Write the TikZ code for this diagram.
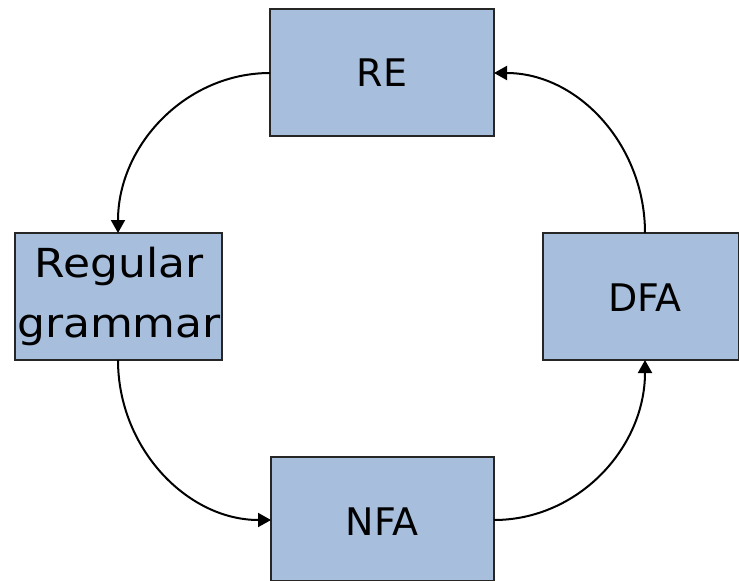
\documentclass[tikz,border=0pt]{standalone}
\usepackage{fontspec}
\setmainfont{DejaVu Sans}
\usetikzlibrary{arrows.meta}
\definecolor{boxfill}{HTML}{A7BFDD}
\begin{document}
\begin{tikzpicture}[x=1pt,y=-1pt,
  box/.style={draw=black!85,line width=2pt,fill=boxfill,inner sep=0pt,anchor=north west},
  conn/.style={line width=2pt,-{Triangle[length=13pt,width=14pt]}},
  lab/.style={font=\fontsize{38}{58}\selectfont,align=center}]
\useasboundingbox (0,0) rectangle (739,581);
\path[box] (270,9) rectangle (494,136);
\node[lab] (re) at (382,73) {RE};
\coordinate (reL) at (270,73);
\coordinate (reR) at (494,73);
\path[box] (15,233) rectangle (222,360);
\node[lab,font=\fontsize{40}{60}\selectfont] (rg) at (119,296) {\scalebox{1.1}[1]{Regular}\\\scalebox{1.1}[1]{grammar}};
\coordinate (rgT) at (118,233);
\coordinate (rgB) at (118,360);
\path[box] (543,233) rectangle (739,360);
\node[lab] (dfa) at (645,298) {DFA};
\coordinate (dfaT) at (645,233);
\coordinate (dfaB) at (645,360);
\path[box] (271,457) rectangle (494,581);
\node[lab] (nfa) at (382,522) {NFA};
\coordinate (nfaL) at (271,520);
\coordinate (nfaR) at (494,520);
\draw[conn] (reL) .. controls (186,73) and (118,145) .. (rgT);
\draw[conn] (rgB) .. controls (118,448) and (187,520) .. (nfaL);
\draw[conn] (nfaR) .. controls (578,520) and (645,448) .. (dfaB);
\draw[conn] (dfaT) .. controls (645,145) and (578,73) .. (reR);
\end{tikzpicture}
\end{document}
